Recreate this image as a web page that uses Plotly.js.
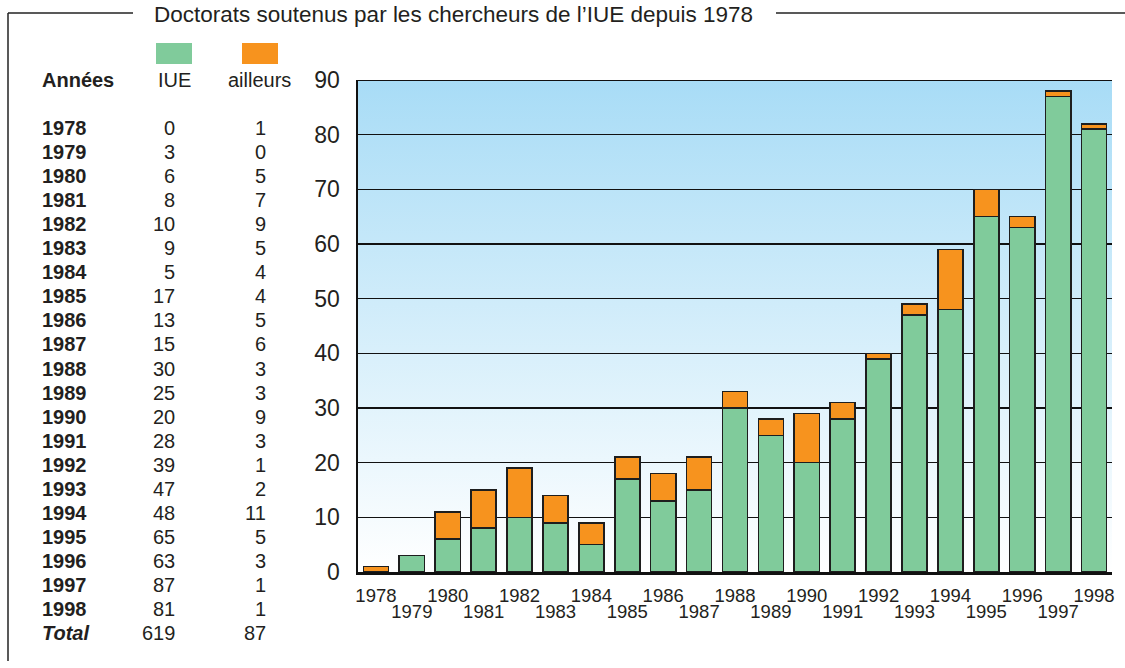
<!DOCTYPE html>
<html>
<head>
<meta charset="utf-8">
<script src="https://cdn.plot.ly/plotly-3.0.1.min.js"></script>
<style>html,body{margin:0;padding:0;background:#fff;}#chart{width:1125px;height:668px;}</style>
</head>
<body>
<div id="chart"></div>
<script>
// ---- data ----
const years = ["1978","1979","1980","1981","1982","1983","1984","1985","1986","1987","1988","1989","1990","1991","1992","1993","1994","1995","1996","1997","1998"];
const iue = [0,3,6,8,10,9,5,17,13,15,30,25,20,28,39,47,48,65,63,87,81];
// values printed in the table
const ailleursTable = [1,0,5,7,9,5,4,4,5,6,3,3,9,3,1,2,11,5,3,1,1];
// values as drawn by the bars (1996 bar shows 2)
const ailleursBars = [1,0,5,7,9,5,4,4,5,6,3,3,9,3,1,2,11,5,2,1,1];
const totalLabel = "Total";
const totals = ["619","87"];
const seriesNames = ["IUE","ailleurs"];
const headerLabel = "Années";
const titleText = "Doctorats soutenus par les chercheurs de l’IUE depuis 1978";

// ---- layout geometry (pixels) ----
const W = 1125, H = 668;
const L = 358, R = 1112, T = 80, B = 572;
const px = x => (x - L) / (R - L);
const py = y => (B - y) / (B - T);

const FONT = "Liberation Sans, Arial, sans-serif";
const TXT = "#231f20";
const GREEN = "#80cb9b", ORANGE = "#f7931e";

const idx = years.map((_, i) => i);
const evenIdx = idx.filter(i => i % 2 === 0);
const oddIdx = idx.filter(i => i % 2 === 1);

const traces = [
  {type: "bar", x: idx, y: iue, name: seriesNames[0], marker: {color: GREEN, line: {color: "#1e1e1e", width: 1.6}}, width: 0.7, hoverinfo: "y"},
  {type: "bar", x: idx, y: ailleursBars, name: seriesNames[1], marker: {color: ORANGE, line: {color: "#1e1e1e", width: 1.6}}, width: 0.7, hoverinfo: "y"}
];

// annotations: table
const ann = [];
const rowY = i => 128 + 24.05 * i;
const TS = 20;
ann.push({text: "<b>" + headerLabel + "</b>", x: px(40), y: py(80), xanchor: "left", yanchor: "middle"});
ann.push({text: seriesNames[0], x: px(174), y: py(80), xanchor: "center", yanchor: "middle"});
ann.push({text: seriesNames[1], x: px(259), y: py(80), xanchor: "center", yanchor: "middle"});
years.forEach((yr, i) => {
  ann.push({text: "<b>" + yr + "</b>", x: px(40), y: py(rowY(i)), xanchor: "left", yanchor: "middle"});
  ann.push({text: String(iue[i]), x: px(177), y: py(rowY(i)), xanchor: "right", yanchor: "middle"});
  ann.push({text: String(ailleursTable[i]), x: px(268), y: py(rowY(i)), xanchor: "right", yanchor: "middle"});
});
const tr = years.length;
ann.push({text: "<b><i>" + totalLabel + "</i></b>", x: px(40), y: py(rowY(tr)), xanchor: "left", yanchor: "middle"});
ann.push({text: totals[0], x: px(177), y: py(rowY(tr)), xanchor: "right", yanchor: "middle"});
ann.push({text: totals[1], x: px(268), y: py(rowY(tr)), xanchor: "right", yanchor: "middle"});
// title
ann.push({text: titleText, x: px(453), y: py(14), xanchor: "center", yanchor: "middle", font: {size: 22.5, color: TXT, family: FONT}});
ann.forEach(a => { a.xref = "paper"; a.yref = "paper"; a.showarrow = false; if (!a.font) a.font = {size: TS, color: TXT, family: FONT}; });

const shapes = [
  // frame
  {type: "line", x0: px(8), x1: px(8), y0: py(13), y1: py(661), line: {color: "#222", width: 1.5}},
  {type: "line", x0: px(8), x1: px(133), y0: py(13), y1: py(13), line: {color: "#222", width: 1.5}},
  {type: "line", x0: px(776), x1: px(1125), y0: py(13), y1: py(13), line: {color: "#222", width: 1.5}},
  // legend swatches
  {type: "rect", x0: px(156), x1: px(192), y0: py(43), y1: py(64), fillcolor: GREEN, line: {width: 0}},
  {type: "rect", x0: px(242), x1: px(278), y0: py(43), y1: py(64), fillcolor: ORANGE, line: {width: 0}},
  // top gridline at 90
  {type: "line", xref: "paper", yref: "y", x0: 0, x1: 1, y0: 90, y1: 90, line: {color: "#111", width: 2}, layer: "above"}
];
shapes.forEach(s => { if (!s.xref) s.xref = "paper"; if (!s.yref) s.yref = "paper"; });

const svg = '<svg xmlns="http://www.w3.org/2000/svg" width="100" height="100" preserveAspectRatio="none">' +
  '<defs><linearGradient id="g" x1="0" y1="0" x2="0" y2="1">' +
  '<stop offset="0" stop-color="#a8dcf6"/><stop offset="1" stop-color="#ffffff"/></linearGradient></defs>' +
  '<rect width="100" height="100" fill="url(#g)"/></svg>';

const layout = {
  width: W, height: H,
  margin: {l: L, r: W - R, t: T, b: H - B, pad: 0},
  paper_bgcolor: "#ffffff",
  plot_bgcolor: "rgba(0,0,0,0)",
  barmode: "stack",
  showlegend: false,
  font: {family: FONT, color: TXT},
  xaxis: {
    range: [-0.5, 20.5], tickmode: "array", tickvals: evenIdx, ticktext: evenIdx.map(i => years[i]),
    showgrid: false, zeroline: false, showline: true, linecolor: "#111", linewidth: 2.5,
    ticks: "", tickfont: {size: 18.5, color: TXT, family: FONT}, ticklabelstandoff: 5, fixedrange: true
  },
  xaxis2: {
    overlaying: "x", matches: "x", anchor: "y", side: "bottom",
    range: [-0.5, 20.5], tickmode: "array", tickvals: oddIdx, ticktext: oddIdx.map(i => years[i]),
    showgrid: false, zeroline: false, showline: false,
    ticks: "", tickfont: {size: 18.5, color: TXT, family: FONT}, ticklabelstandoff: 26, fixedrange: true
  },
  yaxis: {
    range: [0, 90], dtick: 10, tick0: 0,
    showgrid: true, gridcolor: "#111", gridwidth: 1.5,
    zeroline: false, showline: true, linecolor: "#111", linewidth: 2.5,
    ticks: "", tickfont: {size: 23, color: TXT, family: FONT}, ticklabelstandoff: 11, fixedrange: true
  },
  images: [{
    source: "data:image/svg+xml;charset=utf-8," + encodeURIComponent(svg),
    xref: "paper", yref: "paper", x: 0, y: 1, sizex: 1, sizey: 1,
    sizing: "stretch", layer: "below", xanchor: "left", yanchor: "top"
  }],
  annotations: ann,
  shapes: shapes
};

// invisible trace to bind xaxis2 (second row of year labels)
traces.push({type: "scatter", x: [0], y: [0], xaxis: "x2", yaxis: "y", mode: "markers", marker: {opacity: 0}, hoverinfo: "skip", showlegend: false});

Plotly.newPlot("chart", traces, layout, {displayModeBar: false, staticPlot: true});
</script>
</body>
</html>
